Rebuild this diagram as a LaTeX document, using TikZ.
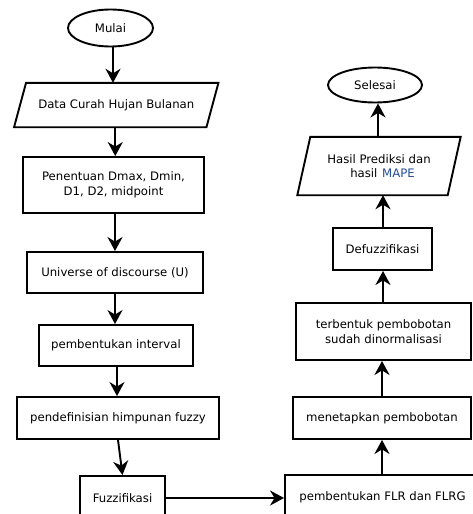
\documentclass[tikz,border=0pt]{standalone}
\usepackage{fontspec}
\setmainfont{DejaVu Sans}
\usetikzlibrary{shapes.geometric,arrows.meta,calc}
\definecolor{mapeblue}{RGB}{35,75,160}
\begin{document}
\begin{tikzpicture}[x=1pt,y=-1pt,
  every node/.style={font=\fontsize{11.7}{14.5}\selectfont, inner sep=0pt, align=center},
  box/.style={draw, line width=1.9pt, rectangle},
  term/.style={draw, line width=1.9pt, ellipse},
  io/.style={rectangle},
  arr/.style={line width=1.9pt, -{Stealth[length=14pt,width=15pt,inset=4.5pt]}}]
\useasboundingbox (0,0) rectangle (472,514);
% left column
\node[term, minimum width=85pt, minimum height=37pt] (mulai) at (110.5,28) {Mulai};
\node[io, minimum width=192pt, minimum height=44pt] (data) at (116.25,105) {Data Curah Hujan Bulanan};
\draw[line width=1.9pt] ($(data.north west)+(6,0)$) -- ($(data.north east)+(6,0)$) -- ($(data.south east)+(-6,0)$) -- ($(data.south west)+(-6,0)$) -- cycle;
\node[box, minimum width=181pt, minimum height=56pt] (pen) at (113.5,185) {Penentuan Dmax, Dmin,\\D1, D2, midpoint};
\node[box, minimum width=176pt, minimum height=41pt] (uni) at (115,272.5) {Universe of discourse (U)};
\node[box, minimum width=154pt, minimum height=41pt] (intv) at (116,345.5) {pembentukan interval};
\node[box, minimum width=202pt, minimum height=42pt] (pend) at (118,418) {pendefinisian himpunan fuzzy};
\node[box, minimum width=85pt, minimum height=44pt] (fuzz) at (122.5,498) {Fuzzifikasi};
% right column
\node[box, minimum width=200pt, minimum height=44pt] (flr) at (385,497) {};
\node at (382.5,497) {pembentukan FLR dan FLRG};
\node[box, minimum width=178pt, minimum height=42pt] (men) at (382,418) {menetapkan pembobotan};
\node[box, minimum width=175pt, minimum height=57pt] (terb) at (383.5,331.5) {terbentuk pembobotan\\sudah dinormalisasi};
\node[box, minimum width=99pt, minimum height=42pt] (defuzz) at (382.5,249) {Defuzzifikasi};
\node[io, minimum width=150pt, minimum height=58pt] (hasil) at (379,166) {Hasil Prediksi dan\\\hspace*{7pt}hasil \hspace{1pt}\textcolor{mapeblue}{MAPE}};
\draw[line width=1.9pt] ($(hasil.north west)+(6.5,0)$) -- ($(hasil.north east)+(6.5,0)$) -- ($(hasil.south east)+(-6.5,0)$) -- ($(hasil.south west)+(-6.5,0)$) -- cycle;
\node[term, minimum width=94pt, minimum height=35pt] (sel) at (375,85) {Selesai};
% connectors
\draw[arr] ([xshift=2.5pt]mulai.south) -- ([xshift=2.5pt]mulai.south |- data.north);
\draw[arr] ([xshift=-1pt]data.south) -- ([xshift=-1pt]data.south |- pen.north);
\draw[arr] ([xshift=1.5pt]pen.south) -- ([xshift=1.5pt]pen.south |- uni.north);
\draw[arr] (uni.south) -- (uni.south |- intv.north);
\draw[arr] ([xshift=1pt]intv.south) -- ([xshift=1pt]intv.south |- pend.north);
\draw[arr] (pend.south) -- (fuzz.north);
\draw[arr] (fuzz.east) -- (fuzz.east -| flr.west);
\draw[arr] (flr.north -| men.south) -- (men.south);
\draw[arr] (men.north) -- (men.north |- terb.south);
\draw[arr] ([xshift=0.5pt]terb.north -| defuzz.south) -- ([xshift=0.5pt]defuzz.south);
\draw[arr] ([xshift=0.5pt]defuzz.north) -- ([xshift=0.5pt]defuzz.north |- hasil.south);
\draw[arr] ([xshift=-1pt]hasil.north) -- ([xshift=-1pt]hasil.north |- sel.south);
\end{tikzpicture}
\end{document}
